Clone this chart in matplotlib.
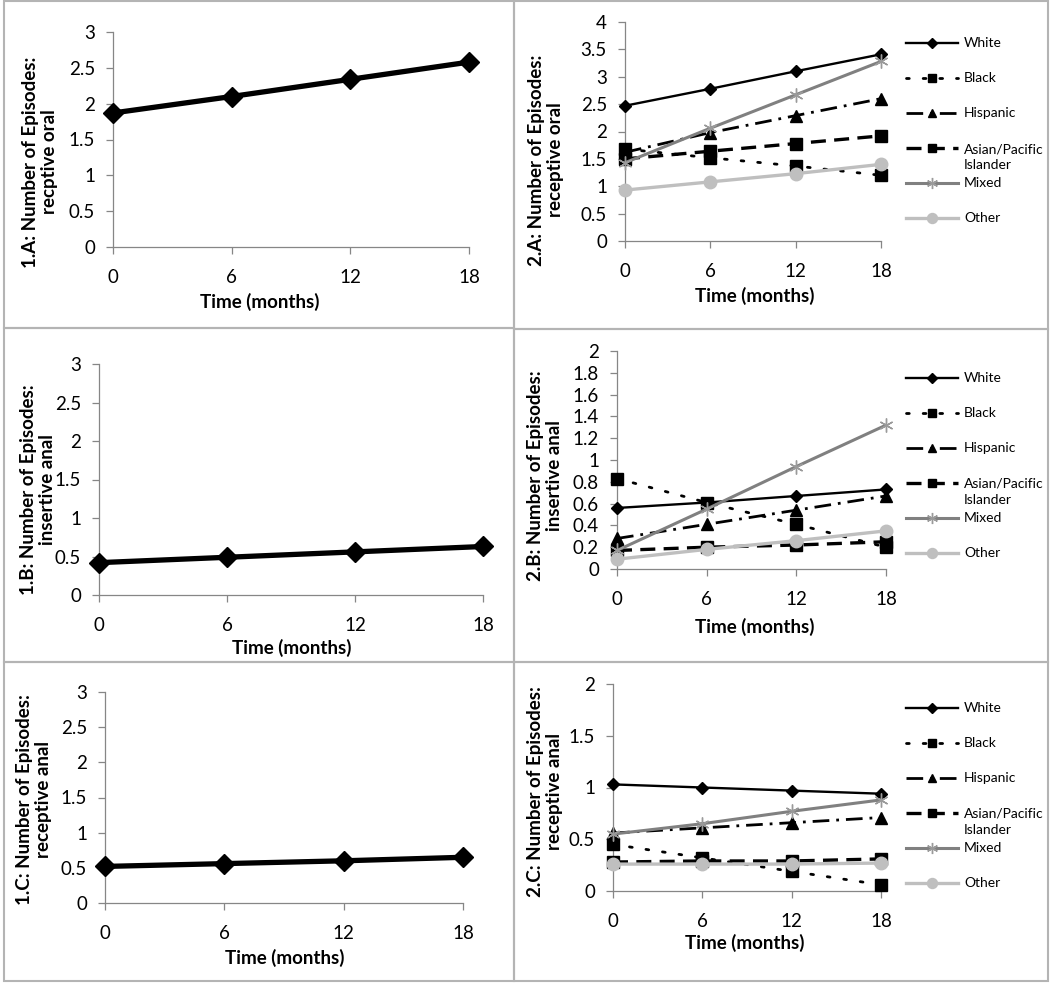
import matplotlib
matplotlib.use("Agg")
import matplotlib.pyplot as plt
from matplotlib.patches import Rectangle

plt.rcParams["font.family"] = ["Lato", "DejaVu Sans"]

W, H = 1050, 984

months = [0, 6, 12, 18]

# overall means (left column)
overall_receptive_oral = [1.87, 2.10, 2.34, 2.58]
overall_insertive_anal = [0.42, 0.49, 0.56, 0.63]
overall_receptive_anal = [0.52, 0.56, 0.60, 0.65]

# by race/ethnicity (right column): White, Black, Hispanic, Asian/PI, Mixed, Other
race_groups = ["White", "Black", "Hispanic", "Asian/Pacific\nIslander", "Mixed", "Other"]

race_receptive_oral = [
    [2.47, 2.78, 3.10, 3.41],
    [1.68, 1.52, 1.37, 1.20],
    [1.62, 1.98, 2.29, 2.60],
    [1.50, 1.64, 1.78, 1.92],
    [1.43, 2.06, 2.67, 3.28],
    [0.93, 1.08, 1.23, 1.40],
]
race_insertive_anal = [
    [0.56, 0.61, 0.67, 0.73],
    [0.83, 0.61, 0.41, 0.20],
    [0.28, 0.41, 0.54, 0.67],
    [0.17, 0.20, 0.22, 0.25],
    [0.17, 0.55, 0.94, 1.32],
    [0.09, 0.18, 0.26, 0.35],
]
race_receptive_anal = [
    [1.03, 1.00, 0.97, 0.94],
    [0.45, 0.32, 0.19, 0.06],
    [0.56, 0.61, 0.66, 0.71],
    [0.28, 0.29, 0.29, 0.31],
    [0.55, 0.65, 0.77, 0.88],
    [0.26, 0.26, 0.26, 0.27],
]

race_styles = [
    dict(color="black", lw=1.7, ls="-", marker="D", ms=6.5, mfc="black", mec="black"),
    dict(color="black", lw=2.0, ls=(0, (1, 5)), dash_capstyle="round", marker="s", ms=8, mfc="black", mec="black"),
    dict(color="black", lw=2.0, ls=(0, (6, 2.5, 1, 2.5)), marker="^", ms=8, mfc="black", mec="black"),
    dict(color="black", lw=2.4, ls=(0, (4.5, 2.5)), marker="s", ms=8, mfc="black", mec="black"),
    dict(color="#808080", lw=2.2, ls="-", marker=(6, 2, 0), ms=10, mfc="#9a9a9a", mec="#9a9a9a", mew=1.0),
    dict(color="#bfbfbf", lw=2.4, ls="-", marker="o", ms=9, mfc="#bfbfbf", mec="#bfbfbf"),
]

AXIS_GRAY = "#868686"
TICK_SIZE = 13.5
LABEL_SIZE = 13.5


def rect(x0, y0, x1, y1):
    return [x0 / W, 1 - y1 / H, (x1 - x0) / W, (y1 - y0) / H]


def style_axes(ax, ymax, ystep):
    ax.set_xlim(0, 18)
    ax.set_ylim(0, ymax)
    ax.set_xticks(months)
    n = int(round(ymax / ystep))
    yt = [round(i * ystep, 2) for i in range(n + 1)]
    ax.set_yticks(yt)
    ax.set_yticklabels([f"{v:g}" for v in yt])
    for s in ["top", "right"]:
        ax.spines[s].set_visible(False)
    for s in ["left", "bottom"]:
        ax.spines[s].set_color(AXIS_GRAY)
        ax.spines[s].set_linewidth(0.9)
    ax.tick_params(axis="both", direction="out", length=5, width=0.9, color=AXIS_GRAY, labelsize=TICK_SIZE)
    ax.tick_params(axis="y", pad=8)
    ax.tick_params(axis="x", pad=11)
    ax.patch.set_alpha(0)


fig = plt.figure(figsize=(W / 100, H / 100), dpi=100)

# overlay in pixel coordinates for frames, labels and legends
ov = fig.add_axes([0, 0, 1, 1])
ov.set_xlim(0, W)
ov.set_ylim(H, 0)
ov.axis("off")

frame_col = "#b4b4b4"
for (x0, y0, x1, y1) in [(4, 1, 514, 328), (514, 1, 1048, 329),
                         (4, 328, 514, 662), (514, 329, 1048, 662),
                         (4, 662, 514, 981), (514, 662, 1048, 981)]:
    ov.add_patch(Rectangle((x0, y0), x1 - x0, y1 - y0, fill=False, ec=frame_col, lw=1.5))

# left column panels
left_panels = [
    (overall_receptive_oral, (113, 32, 469, 247), "1.A: Number of Episodes:\nrecptive oral", (40, 162), (260, 302)),
    (overall_insertive_anal, (99, 364, 483, 595), "1.B: Number of Episodes:\ninsertive anal", (38, 490), (292, 648)),
    (overall_receptive_anal, (105, 692, 463, 903), "1.C: Number of Episodes:\nreceptive anal", (34, 800), (285, 958)),
]
for values, r, ylab, ypos, xpos in left_panels:
    ax = fig.add_axes(rect(*r))
    ax.plot(months, values, color="black", lw=3.8, marker="D", ms=10.5, clip_on=False, zorder=3)
    style_axes(ax, 3, 0.5)
    ov.text(ypos[0], ypos[1], ylab, rotation=90, ha="center", va="center", multialignment="center",
            fontsize=LABEL_SIZE, fontweight="bold", linespacing=1.2)
    ov.text(xpos[0], xpos[1], "Time (months)", ha="center", va="center", fontsize=LABEL_SIZE, fontweight="bold")

# right column panels
right_panels = [
    (race_receptive_oral, (625, 22, 881, 241), 4, 0.5, "2.A: Number of Episodes:\nreceptive oral",
     (546, 160), (755, 296), 43),
    (race_insertive_anal, (617, 351, 886, 569), 2, 0.2, "2.B: Number of Episodes:\ninsertive anal",
     (545, 476), (755, 627), 378),
    (race_receptive_anal, (613, 684, 881, 891), 2, 0.5, "2.C: Number of Episodes:\nreceptive anal",
     (545, 792), (745, 943), 708),
]
for series, r, ymax, ystep, ylab, ypos, xpos, leg_y in right_panels:
    ax = fig.add_axes(rect(*r))
    for vals, st in zip(series, race_styles):
        ax.plot(months, vals, clip_on=False, zorder=3, **st)
    style_axes(ax, ymax, ystep)
    ov.text(ypos[0], ypos[1], ylab, rotation=90, ha="center", va="center", multialignment="center",
            fontsize=LABEL_SIZE, fontweight="bold", linespacing=1.2)
    ov.text(xpos[0], xpos[1], "Time (months)", ha="center", va="center", fontsize=LABEL_SIZE, fontweight="bold")

    # legend entries, 35 px apart
    hx0, hx1, tx = 906, 958, 964
    for i, (name, st) in enumerate(zip(race_groups, race_styles)):
        y = leg_y + 35 * i
        kw = dict(st)
        kw["ms"] = kw["ms"] * 0.8
        ov.plot([hx0, (hx0 + hx1) / 2, hx1], [y, y, y], markevery=[1], **kw)
        if "\n" in name:
            ov.text(tx, y + 9, name, ha="left", va="center", fontsize=10, linespacing=1.4)
        else:
            ov.text(tx, y, name, ha="left", va="center", fontsize=10)

fig.savefig("out.png", dpi=100)
